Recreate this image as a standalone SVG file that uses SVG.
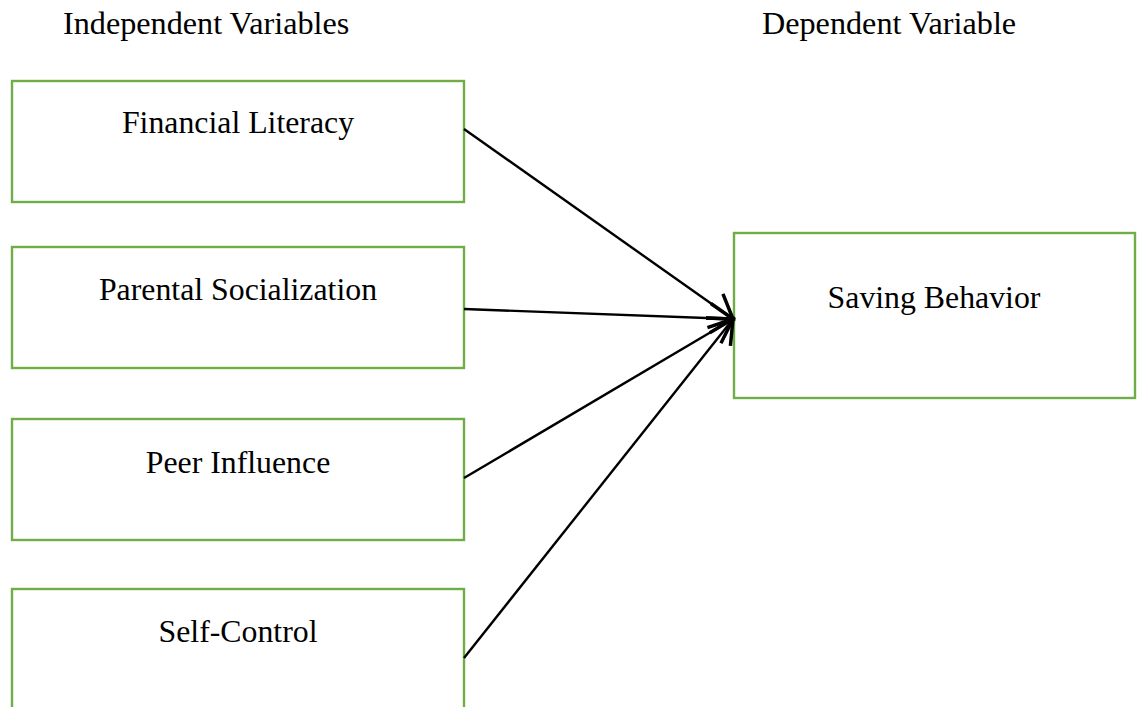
<svg xmlns="http://www.w3.org/2000/svg" width="1141" height="707" viewBox="0 0 1141 707">
<style>
.box{fill:#fff;stroke:#70AD47;stroke-width:2.4}
.lbl{font-family:"Liberation Serif","Times New Roman",serif;font-size:31.8px;fill:#000;text-anchor:middle}
.hdr{font-family:"Liberation Serif","Times New Roman",serif;font-size:32.2px;fill:#000}
.edge{stroke:#000;stroke-width:2.4;fill:none;marker-end:url(#arr)}
</style>
<defs>
<marker id="arr" markerUnits="userSpaceOnUse" markerWidth="40" markerHeight="40" viewBox="-20 -15 24 30" refX="0" refY="0" orient="auto">
<path d="M-17,-11 L0,0 L-17,11" fill="none" stroke="#000" stroke-width="2.6" stroke-linejoin="miter"/>
</marker>
</defs>
<rect width="1141" height="707" fill="#fff"/>
<text class="hdr" x="63" y="34">Independent Variables</text>
<text class="hdr" x="762" y="34">Dependent Variable</text>
<g id="n1"><rect class="box" x="12" y="81" width="452" height="121"/><text class="lbl" x="238" y="133">Financial Literacy</text></g>
<g id="n2"><rect class="box" x="12" y="247" width="452" height="121"/><text class="lbl" x="238" y="300">Parental Socialization</text></g>
<g id="n3"><rect class="box" x="12" y="419" width="452" height="121"/><text class="lbl" x="238" y="473">Peer Influence</text></g>
<g id="n4"><rect class="box" x="12" y="589" width="452" height="121"/><text class="lbl" x="238" y="642">Self-Control</text></g>
<g id="n5"><rect class="box" x="734" y="233" width="401" height="165"/><text class="lbl" x="934" y="308">Saving Behavior</text></g>
<g id="edges">
<line class="edge" x1="464" y1="129" x2="733" y2="319"/>
<line class="edge" x1="464" y1="309" x2="733" y2="319"/>
<line class="edge" x1="464" y1="478" x2="733" y2="319"/>
<line class="edge" x1="464" y1="658" x2="733" y2="319"/>
</g>
</svg>
